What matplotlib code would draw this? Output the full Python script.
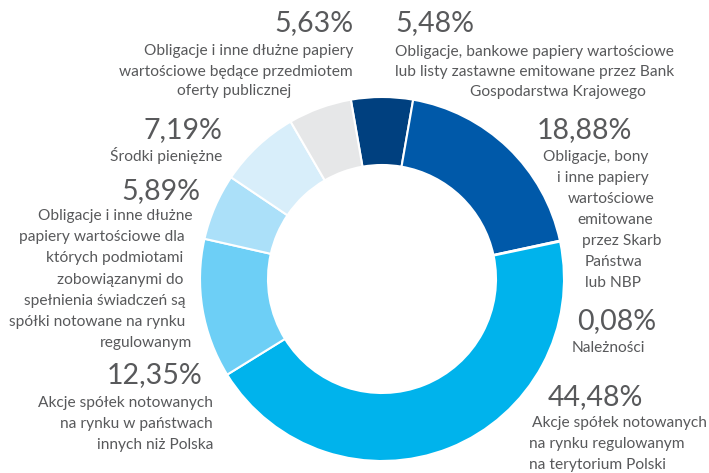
import matplotlib
matplotlib.use("Agg")
import matplotlib.pyplot as plt

# portfolio structure, clockwise from the top
shares = [5.48, 18.88, 0.08, 44.48, 12.35, 5.89, 7.19, 5.63]
share_labels = ["5,48%", "18,88%", "0,08%", "44,48%", "12,35%", "5,89%", "7,19%", "5,63%"]
descriptions = [
    ["Obligacje, bankowe papiery wartościowe",
     "lub listy zastawne emitowane przez Bank",
     "Gospodarstwa Krajowego"],
    ["Obligacje, bony", "i inne papiery", "wartościowe", "emitowane",
     "przez Skarb", "Państwa", "lub NBP"],
    ["Należności"],
    ["Akcje spółek notowanych", "na rynku regulowanym", "na terytorium Polski"],
    ["Akcje spółek notowanych", "na rynku w państwach", "innych niż Polska"],
    ["Obligacje i inne dłużne", "papiery wartościowe dla", "których podmiotami",
     "zobowiązanymi do", "spełnienia świadczeń są", "spółki notowane na rynku",
     "regulowanym"],
    ["Środki pieniężne"],
    ["Obligacje i inne dłużne papiery",
     "wartościowe będące przedmiotem",
     "oferty publicznej"],
]
colors = ["#00407f", "#0059a9", "#ffffff", "#00b3ec", "#6dcff6", "#abe0f9", "#d8eefa", "#e6e7e8"]

W, H = 709, 473
# text placement in pixels from the top-left corner:
# (percent x, percent y, percent ha), then per line (x, y, ha)
layout = [
    ((395, 23, "left"), [(395, 52, "left"), (395, 72, "left"), (470, 92, "left")]),
    ((537, 130, "left"), [(543, 157, "left"), (557, 178, "left"), (568, 199, "left"),
                          (577, 220, "left"), (582, 241, "left"), (585, 262, "left"),
                          (585, 283, "left")]),
    ((577, 321, "left"), [(572, 348, "left")]),
    ((548, 397, "left"), [(532, 423, "left"), (529, 444, "left"), (529, 465, "left")]),
    ((202, 375, "right"), [(213, 403, "right"), (213, 424, "right"), (213, 445, "right")]),
    ((200, 191, "right"), [(192, 216, "right"), (185, 237, "right"), (183, 258, "right"),
                           (183, 280, "right"), (185, 301, "right"), (185, 322, "right"),
                           (192, 343, "right")]),
    ((222, 130, "right"), [(222, 155, "right")]),
    ((353, 23, "right"), [(353, 51, "right"), (353, 72, "right"), (234, 91, "center")]),
]

text_color = "#58595b"
plt.rcParams["font.family"] = ["Lato", "DejaVu Sans"]

fig = plt.figure(figsize=(W / 100, H / 100), dpi=100)
ax = fig.add_axes([0, 0, 1, 1])

# first slice centred on 12 o'clock
start = 90 + shares[0] / sum(shares) * 180
ax.pie(shares, colors=colors, startangle=start, counterclock=False,
       center=(382, H - 279), radius=182,
       wedgeprops=dict(width=68, edgecolor="white", linewidth=1.5))
ax.set_xlim(0, W)
ax.set_ylim(0, H)
ax.set_aspect("equal")
ax.axis("off")

for pct, lines, (head, rows) in zip(share_labels, descriptions, layout):
    px, py, pha = head
    ax.text(px, H - py, pct, ha=pha, va="center", fontsize=20.5,
            color=text_color)
    for line, (lx, ly, lha) in zip(lines, rows):
        ax.text(lx, H - ly, line, ha=lha, va="center", fontsize=11.2,
                color=text_color)

fig.savefig("out.png", dpi=100)
